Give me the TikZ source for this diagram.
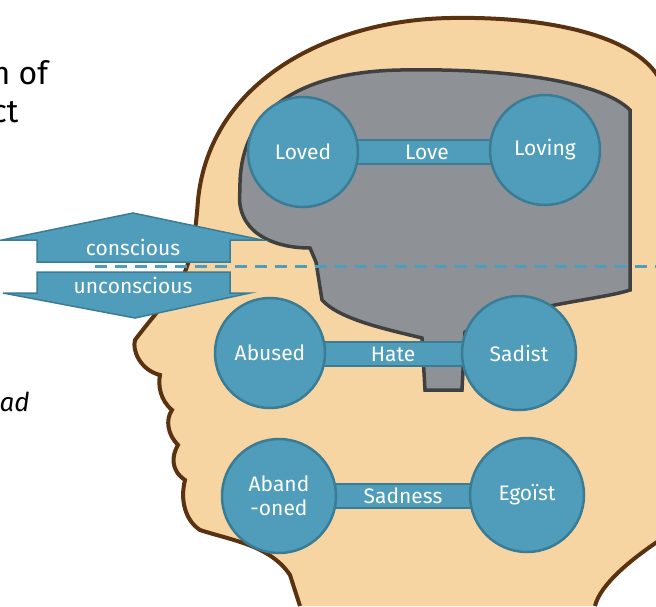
\documentclass[tikz,border=0pt]{standalone}
\usepackage{fontspec}
\setmainfont{Fira Sans}
\usetikzlibrary{positioning}
\definecolor{skin}{HTML}{F7D5A3}
\definecolor{hair}{HTML}{5A3210}
\definecolor{brain}{HTML}{8E9296}
\definecolor{blob}{HTML}{4F9DBA}
\definecolor{blobline}{HTML}{3A7C96}
\tikzset{
  feel/.style={circle,fill=blob,draw=blobline,line width=2.5pt,minimum size=#1,inner sep=0pt,
    text=white,font=\fontsize{21}{24}\selectfont,align=center},
  bar/.style={rectangle,fill=blob,draw=blobline,line width=2pt,minimum height=24pt,
    text=white,font=\fontsize{21}{24}\selectfont,inner sep=0pt},
  tag/.style={fill=blob,draw=blobline,line width=1.5pt}
}
\begin{document}
\begin{tikzpicture}[x=1pt,y=-1pt]
	\useasboundingbox (0,0) rectangle (656,606);
	% head
	\draw[hair,line width=4pt,fill=skin] (300,606) -- (290,575) .. controls (270,545) and (230,540) .. (200,530)
		.. controls (185,520) and (180,500) .. (185,480) .. controls (170,470) and (172,455) .. (178,445)
		.. controls (168,435) and (165,420) .. (172,410) .. controls (160,400) and (158,385) .. (160,375)
		.. controls (140,370) and (132,350) .. (135,340) .. controls (150,320) and (160,310) .. (165,300)
		.. controls (190,280) and (195,240) .. (198,200) .. controls (210,80) and (330,20) .. (450,18)
		.. controls (560,16) and (640,40) .. (660,80) -- (660,540) .. controls (630,560) and (600,585) .. (595,606);
	% brain
	\draw[black!75,line width=3.5pt,fill=brain] (310,248) .. controls (270,248) and (235,230) .. (240,190)
		.. controls (238,110) and (300,72) .. (400,70) .. controls (500,68) and (600,80) .. (630,110)
		-- (630,290) .. controls (600,300) and (520,305) .. (465,332) -- (462,390) -- (425,390) -- (422,338)
		.. controls (390,330) and (340,320) .. (322,300) -- (316,262) -- cycle;
	% conscious / unconscious tags
	\draw[tag] (2,240) -- (133,213) -- (262,240) -- (230,240) -- (230,262) -- (37,262) -- (37,240) -- cycle;
	\node[text=white,font=\fontsize{21}{24}\selectfont] (con) at (133,247) {conscious};
	\draw[tag] (3,293) -- (37,293) -- (37,272) -- (230,272) -- (230,293) -- (250,293) -- (135,318) -- cycle;
	\node[text=white,font=\fontsize{21}{24}\selectfont] (uncon) at (133,285) {unconscious};
	\coordinate (dl) at (95,266);
	\coordinate (dr) at (656,266);
	\draw[blob,line width=3pt,dash pattern=on 12pt off 8pt] (dl) -- (dr);
	% feelings
	\node[bar,minimum width=140pt] (love) at (427,152) {Love};
	\node[bar,minimum width=145pt] (hate) at (393,354) {Hate};
	\node[bar,minimum width=145pt] (sad) at (403,496) {Sadness};
	\node[feel=110pt] (loved) at (303,152) {Loved};
	\node[feel=110pt] (loving) at (545,150) {Loving};
	\node[feel=110pt] (abused) at (270,353) {Abused};
	\node[feel=114pt] (sadist) at (519,353) {Sadist};
	\node[feel=114pt] (aband) at (279,496) {Aband\\-oned};
	\node[feel=114pt] (ego) at (527,495) {Egoïst};
	% text from the slide
	\node[anchor=west,font=\fontsize{32}{38}\selectfont,align=left] (txt) at (-12,92) {n of\\ct};
	\node[anchor=west,font=\itshape\fontsize{26}{30}\selectfont] (txt2) at (-4,402) {ad};
\end{tikzpicture}
\end{document}
